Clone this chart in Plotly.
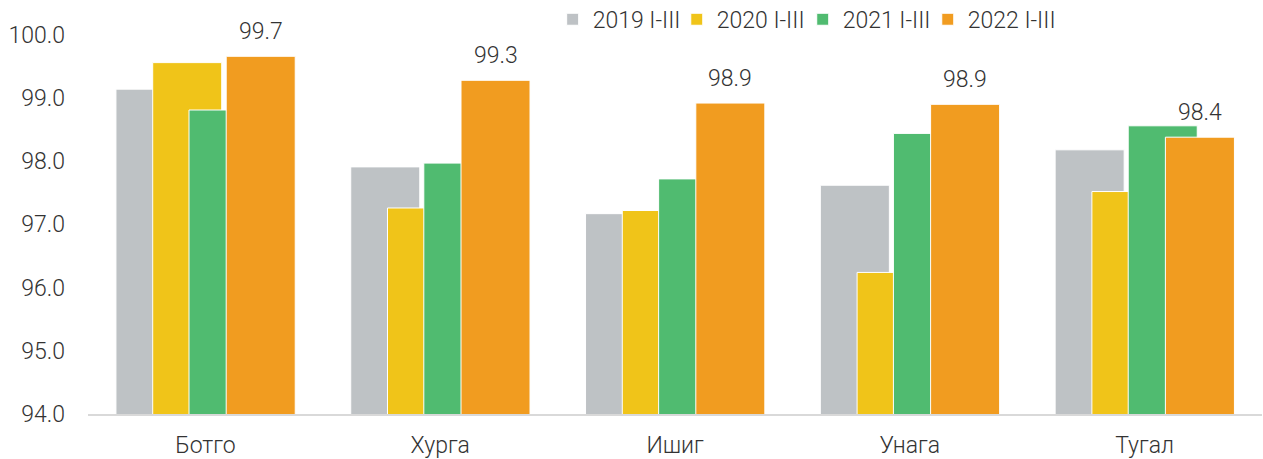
import plotly.graph_objects as go

categories = ["Ботго", "Хурга", "Ишиг", "Унага", "Тугал"]
series_names = ["2019 I-III", "2020 I-III", "2021 I-III", "2022 I-III"]
v2019 = [99.14, 97.91, 97.17, 97.62, 98.18]
v2020 = [99.56, 97.26, 97.22, 96.24, 97.52]
v2021 = [98.81, 97.97, 97.72, 98.44, 98.56]
v2022 = [99.66, 99.28, 98.92, 98.90, 98.38]
label_series = v2022

colors = ["#BEC2C5", "#F0C419", "#50BB70", "#F19C20"]
offsets = [-0.381, -0.2245, -0.0698, 0.0886]
bar_w = 0.294
legend_x = [0.3958, 0.5015, 0.6088, 0.7153]
legend_ids = ["legend", "legend2", "legend3", "legend4"]
FONT = dict(family="Roboto", size=23, color="#333333", weight=300)

fig = go.Figure()
for name, vals, col, off, lid in zip(series_names, [v2019, v2020, v2021, v2022], colors, offsets, legend_ids):
    fig.add_trace(go.Bar(
        x=categories, y=vals, name=name, legend=lid,
        marker=dict(color=col, line=dict(color="white", width=1)),
        width=bar_w, offset=off,
    ))

# data labels on the 2022 series
for cat, val in zip(categories, label_series):
    fig.add_annotation(
        x=cat, y=val, text=f"{val:.1f}", showarrow=False,
        xshift=(offsets[3] + bar_w / 2) * 234.8, yshift=9, yanchor="bottom",
        font=FONT,
    )

legend_common = dict(
    orientation="h", xanchor="left", y=0.965, yanchor="middle",
    bgcolor="rgba(0,0,0,0)", font=FONT, itemwidth=30,
)
legends = {lid: dict(legend_common, x=lx) for lid, lx in zip(legend_ids, legend_x)}

fig.update_layout(
    width=1263, height=459,
    barmode="overlay",
    paper_bgcolor="white", plot_bgcolor="white",
    margin=dict(l=88, r=1, t=5, b=45, autoexpand=False),
    font=FONT,
    showlegend=True,
    xaxis=dict(
        showline=True, linecolor="#D9D9D9", linewidth=2,
        showgrid=False, ticks="", ticklabelstandoff=9, automargin=False,
    ),
    yaxis=dict(
        range=[94, 94 + 409 / 63.2], dtick=1, tick0=94, tickformat=".1f",
        showgrid=False, showline=False, zeroline=False, ticks="",
        ticklabelstandoff=22, automargin=False,
    ),
    **legends,
)

fig.write_html("out.html", config={"displayModeBar": False},
               post_script="document.body.style.margin='0px';")
